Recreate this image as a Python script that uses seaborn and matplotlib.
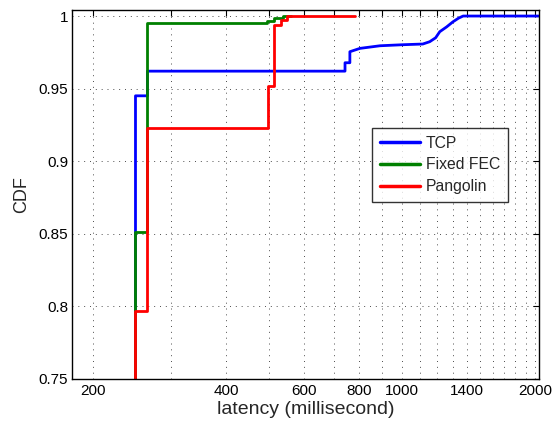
import matplotlib
matplotlib.use("Agg")
import matplotlib.pyplot as plt
import matplotlib.ticker as mticker
import seaborn as sns
import pandas as pd

# ---- data (vertices of the CDF curves) ----
tcp_latency = [250, 250, 266, 266, 743, 743, 762, 762, 803, 891, 1000, 1113, 1154, 1190, 1216, 1260, 1302, 1340, 1373, 2040]
tcp_cdf     = [0.0, 0.945, 0.945, 0.962, 0.962, 0.9678, 0.9678, 0.9754, 0.9777, 0.9795, 0.9802, 0.9807, 0.9823, 0.985, 0.9892, 0.9925, 0.996, 0.9985, 1.0, 1.0]

fec_latency = [250, 250, 266, 266, 281, 281, 494, 494, 514, 514, 538, 538, 560]
fec_cdf     = [0.0, 0.851, 0.851, 0.995, 0.995, 0.9955, 0.9955, 0.9968, 0.9968, 0.9984, 0.9984, 1.0, 1.0]

pang_latency = [250, 250, 266, 266, 498, 498, 514, 514, 532, 532, 549, 549, 782]
pang_cdf     = [0.0, 0.797, 0.797, 0.923, 0.923, 0.952, 0.952, 0.994, 0.994, 0.997, 0.997, 1.0, 1.0]

series_names = ["TCP", "Fixed FEC", "Pangolin"]
series_colors = ["#0000ff", "#008000", "#ff0000"]

x_grid_ticks = list(range(200, 2001, 100))
x_tick_labels = {200: "200", 400: "400", 600: "600", 800: "800", 1000: "1000", 1400: "1400", 2000: "2000"}
y_ticks = [0.75, 0.8, 0.85, 0.9, 0.95, 1.0]
y_tick_labels = ["0.75", "0.8", "0.85", "0.9", "0.95", "1"]

# ---- build table ----
frames = []
for name, xs, ys in zip(series_names,
                        [tcp_latency, fec_latency, pang_latency],
                        [tcp_cdf, fec_cdf, pang_cdf]):
    frames.append(pd.DataFrame({"latency": xs, "cdf": ys, "series": name}))
df = pd.concat(frames, ignore_index=True)

sns.set_style("white")
plt.rcParams["font.family"] = ["Liberation Sans", "DejaVu Sans"]

fig = plt.figure(figsize=(5.53, 4.23), dpi=100)
ax = fig.add_axes([72.3 / 553, (423 - 378.7) / 423, (539.3 - 72.3) / 553, (378.7 - 9.5) / 423])

sns.lineplot(data=df, x="latency", y="cdf", hue="series", hue_order=series_names,
             palette=series_colors, estimator=None, sort=False, legend=False,
             linewidth=2.0, ax=ax)

ax.set_xscale("log")
ax.set_xlim(180, 2040)
ax.set_ylim(0.75, 1.0045)

ax.xaxis.set_major_locator(mticker.FixedLocator(x_grid_ticks))
ax.xaxis.set_major_formatter(mticker.FixedFormatter([x_tick_labels.get(t, "") for t in x_grid_ticks]))
ax.xaxis.set_minor_locator(mticker.NullLocator())
ax.set_yticks(y_ticks)
ax.set_yticklabels(y_tick_labels)

ax.tick_params(axis="both", which="major", direction="in", length=4, width=0.8,
               top=True, right=True, labelsize=11, colors="black", pad=4)
ax.tick_params(axis="y", pad=3)
ax.grid(True, which="major", linestyle=(0, (1, 5)), color="0.3", linewidth=0.7)

for s in ax.spines.values():
    s.set_visible(True)
    s.set_color("black")
    s.set_linewidth(1.0)

ax.set_xlabel("latency (millisecond)", fontsize=14, labelpad=2)
ax.set_ylabel("CDF", fontsize=13, labelpad=6)

leg = ax.legend(ax.lines[:3], series_names, loc="upper right",
                bbox_to_anchor=(0.933, 0.679), borderaxespad=0,
                fontsize=11.3, frameon=True, fancybox=False, shadow=False,
                handlelength=2.6, handletextpad=0.35, labelspacing=0.42,
                borderpad=0.5)
leg.get_frame().set_edgecolor("black")
leg.get_frame().set_linewidth(1.0)
for ln in leg.get_lines():
    ln.set_linewidth(2.5)

fig.savefig("out.png", dpi=100)
